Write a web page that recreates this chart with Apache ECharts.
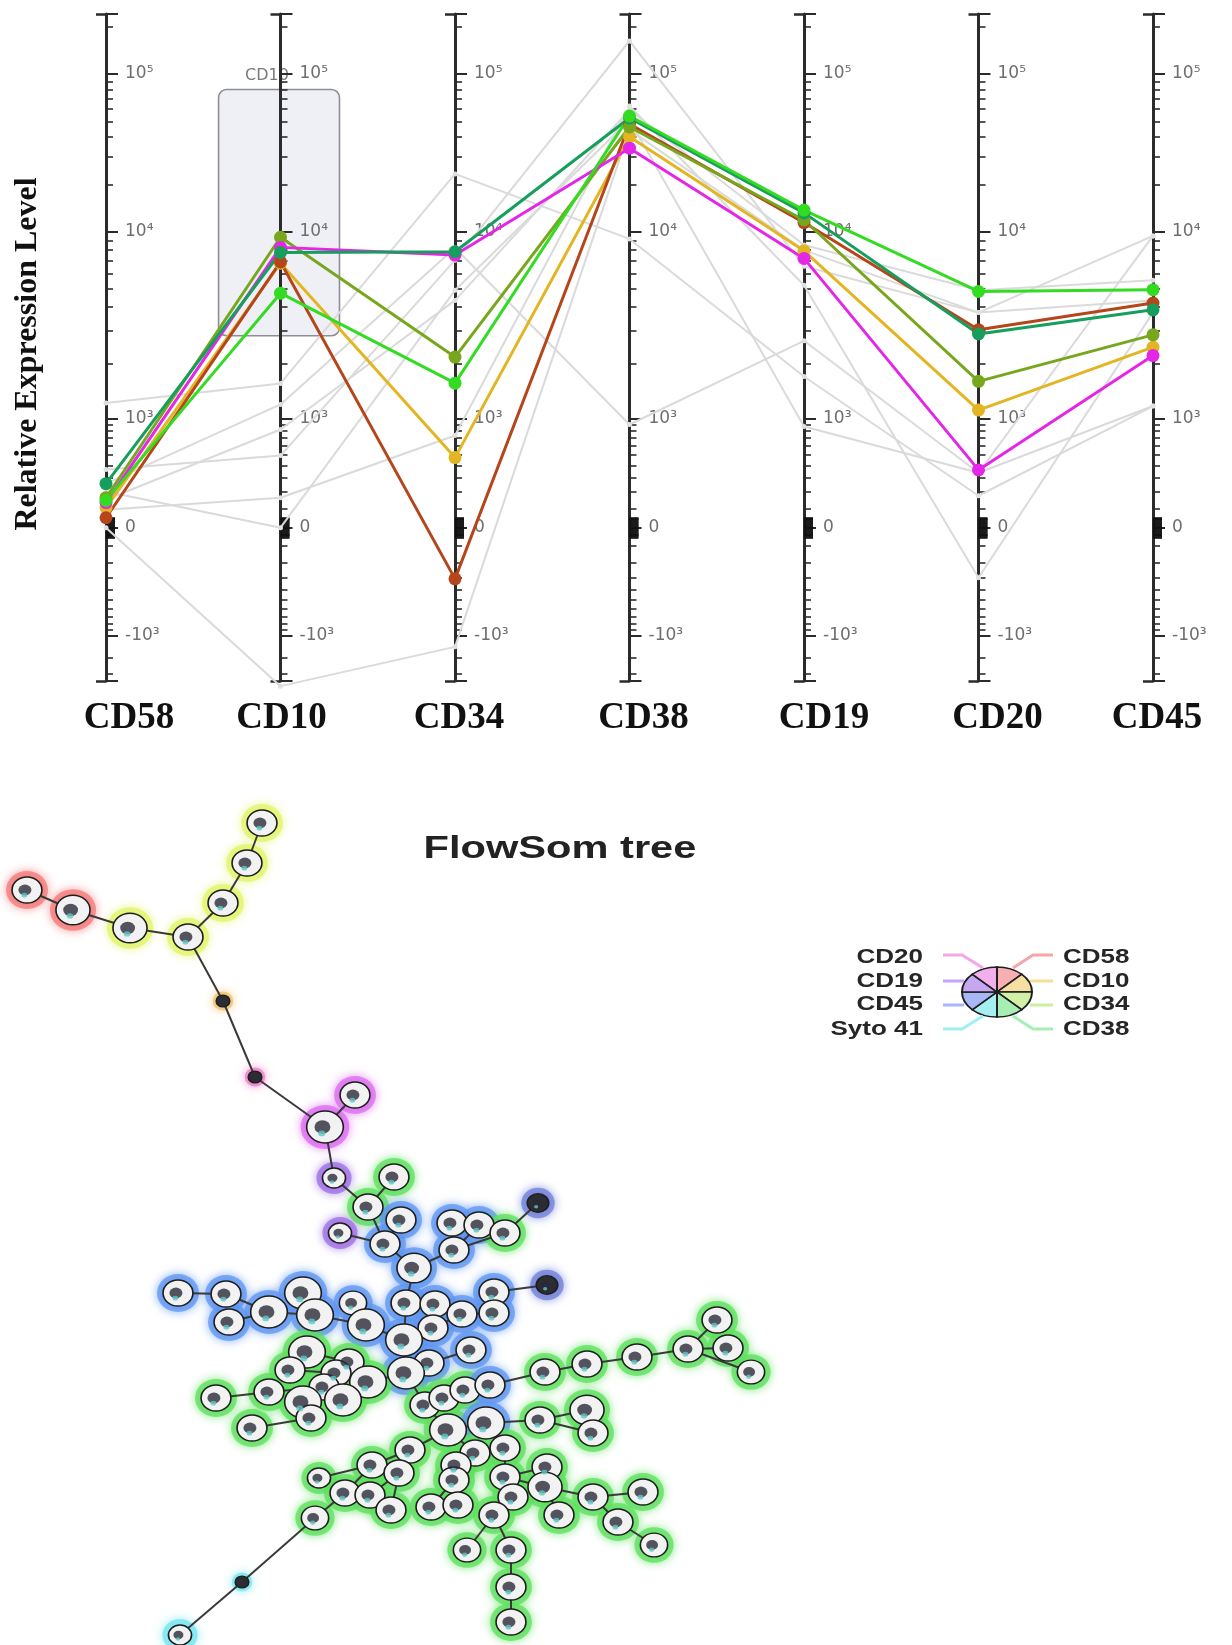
<!DOCTYPE html>
<html>
<head>
<meta charset="utf-8">
<script src="https://cdn.jsdelivr.net/npm/echarts@6/dist/echarts.min.js"></script>
<style>
html,body{margin:0;padding:0;background:#fff;}
#chart{width:1232px;height:1645px;}
</style>
</head>
<body>
<div id="chart"></div>
<script>
// ---------------- DATA ----------------
const MARKERS = ['CD58','CD10','CD34','CD38','CD19','CD20','CD45'];

// highlighted FlowSOM clusters (relative expression per marker)
const clusterLime    = [150, 4730, 1565, 54200, 13750, 4830, 4940];
const clusterTeal    = [257, 7780, 7850, 52700, 13200, 2870, 3860];
const clusterOlive   = [166, 9370, 2160, 46200, 11900, 1600, 2840];
const clusterMagenta = [137, 8280, 7540, 33900, 7235, 361, 2200];
const clusterGold    = [108, 6830, 472, 40100, 7940, 1117, 2440];
const clusterBrown   = [53, 6930, -312, 48300, 11460, 3020, 4190];

// background clusters (grey)
const bgCluster1 = [1220, 1560, 23300, 9180, 1700, 178, 1175];
const bgCluster2 = [257, 1200, 8210, 900, 2640, 338, 9520];
const bgCluster3 = [365, 492, 7080, 162000, 6580, 3730, 9520];
const bgCluster4 = [97, 166, 731, 62700, 5210, -304, 3730];
const bgCluster5 = [204, 0, 4900, 51200, 867, 338, 1175];
const bgCluster6 = [0, -2500, -1230, 44300, 8010, 3730, 4330];
const bgCluster7 = [154, 819, 4330, 59200, 8520, 4900, 5540];

// axis ticks
const MAJOR_TICKS  = [-1000, 0, 1000, 10000, 100000];
const MAJOR_LABELS = ['-10³', '0', '10³', '10⁴', '10⁵'];
const AXIS_MIN_VALUE = -2280;
const AXIS_MAX_VALUE = 240000;

// CD10 gate
const gateName = 'CD10';
const gateRange = [2810, 79800];

// FlowSOM tree nodes: id, layout x, layout y, cell count, metacluster
const treeNodes = [
 ['n1',262,823,560,'yg'],['n2',247,863,560,'yg'],['n3',223,903,560,'yg'],['n4',188,937,560,'yg'],
 ['n5',130,928,760,'yg'],['n6',73,910,760,'red'],['n7',27,890,560,'red'],['n8',223,1001,70,'orange'],
 ['n9',255,1077,70,'pink'],['n10',325,1127,900,'magenta'],['n11',355,1095,560,'magenta'],
 ['A',334,1178,300,'purple'],['B',394,1177,560,'green'],['C',368,1207,560,'green'],['D',401,1220,560,'blue'],
 ['E',340,1233,300,'purple'],['F',385,1244,560,'blue'],['G',452,1223,560,'blue'],['H',479,1225,560,'blue'],
 ['I',505,1233,560,'green'],['J',538,1203,250,'darkblue'],['K',454,1250,560,'blue'],['L',414,1268,760,'blue'],
 ['M',178,1293,560,'blue'],['N',226,1294,560,'blue'],['O',303,1293,900,'blue'],['P',229,1322,560,'blue'],
 ['Q',269,1312,900,'blue'],['R',315,1315,900,'blue'],['S',353,1303,450,'blue'],['T',366,1325,900,'blue'],
 ['U',406,1303,560,'blue'],['V',435,1304,560,'blue'],['W',494,1292,560,'blue'],['X',547,1285,250,'darkblue'],
 ['Y',462,1314,560,'blue'],['Z',494,1313,560,'blue'],['AA',433,1328,560,'blue'],['AB',404,1340,900,'blue'],
 ['AC',471,1350,560,'blue'],['AD',429,1363,560,'blue'],['AE',406,1373,900,'blue'],
 ['AF',307,1352,900,'green'],['AG',349,1362,560,'green'],['AH',290,1370,560,'green'],['AI',336,1373,560,'green'],
 ['AJ',368,1382,900,'green'],['AK',324,1387,560,'green'],['AL',269,1392,560,'green'],['AM',216,1398,560,'green'],
 ['AN',303,1402,900,'green'],['AO',343,1400,900,'green'],['AP',311,1418,560,'green'],['AQ',252,1428,560,'green'],
 ['AR',425,1405,560,'green'],['AS',444,1398,560,'green'],['AT',465,1390,560,'green'],['AU',490,1385,560,'blue'],
 ['AV',545,1372,560,'green'],['AW',587,1364,560,'green'],['AX',637,1357,560,'green'],['AY',688,1349,560,'green'],
 ['AZ',717,1320,560,'green'],['BA',728,1348,560,'green'],['BB',751,1372,450,'green'],
 ['BC',448,1430,900,'green'],['BD',486,1423,900,'blue'],['BE',540,1420,560,'green'],['BF',587,1410,760,'green'],
 ['BG',593,1433,560,'green'],['BH',410,1450,560,'green'],['BI',475,1453,560,'green'],['BJ',505,1448,560,'green'],
 ['BK',372,1465,560,'green'],['BL',399,1473,560,'green'],['BM',456,1465,560,'green'],['BN',319,1478,300,'green'],
 ['BO',454,1480,560,'green'],['BP',505,1477,560,'green'],['BQ',547,1467,560,'green'],['BR',545,1487,760,'green'],
 ['BS',345,1493,560,'green'],['BT',370,1495,560,'green'],['BU',513,1497,560,'green'],['BV',593,1497,560,'green'],
 ['BW',643,1492,560,'green'],['BX',431,1507,560,'green'],['BY',458,1505,560,'green'],['BZ',391,1510,560,'green'],
 ['CA',559,1515,560,'green'],['CB',494,1515,560,'green'],['CC',315,1518,450,'green'],['CD',618,1522,560,'green'],
 ['CE',654,1545,450,'green'],['CF',467,1550,450,'green'],['CG',511,1550,560,'green'],['CH',511,1587,560,'green'],
 ['CI',511,1622,560,'green'],['CJ',242,1582,70,'cyan'],['CK',180,1635,300,'cyan']
];
const treeEdges = [
 ['n1','n2'],['n2','n3'],['n3','n4'],['n4','n5'],['n5','n6'],['n6','n7'],['n4','n8'],['n8','n9'],['n9','n10'],['n10','n11'],['n10','A'],
 ['A','C'],['B','C'],['C','F'],['D','F'],['E','F'],['F','L'],['L','K'],['K','G'],['K','H'],['K','I'],['I','J'],
 ['L','U'],['U','AB'],['V','AA'],['AA','AB'],['Y','AA'],['Z','Y'],['W','Z'],['W','X'],
 ['M','N'],['N','Q'],['P','Q'],['Q','R'],['O','R'],['R','T'],['S','T'],['T','AB'],
 ['AB','AE'],['AC','AD'],['AD','AE'],
 ['AE','AJ'],['AI','AJ'],['AG','AI'],['AF','AG'],['AH','AI'],['AK','AI'],['AL','AK'],['AM','AL'],['AO','AK'],['AN','AK'],['AP','AN'],['AQ','AP'],
 ['AE','AR'],['AR','AS'],['AS','AT'],['AT','AU'],['AU','AV'],['AV','AW'],['AW','AX'],['AX','AY'],['AY','AZ'],['AY','BA'],['AY','BB'],
 ['AR','BC'],['BC','BD'],['BD','BE'],['BE','BF'],['BE','BG'],
 ['BC','BH'],['BH','BK'],['BK','BN'],['BK','BS'],['BS','CC'],['CC','CJ'],['CJ','CK'],['BH','BL'],['BL','BT'],['BL','BZ'],
 ['BC','BI'],['BI','BM'],['BM','BO'],['BO','BX'],['BO','BY'],['BI','BJ'],['BJ','BP'],['BP','BQ'],['BP','BR'],['BR','BV'],['BV','BW'],['BV','CD'],['CD','CE'],['BR','CA'],['BP','BU'],['BU','CB'],['CB','CF'],['CB','CG'],['CG','CH'],['CH','CI']
];

// legend (star chart key)
const LEGEND_MARKERS = ['CD58','CD10','CD34','CD38','Syto 41','CD45','CD19','CD20'];

// ---------------- SCALE (biexponential display) ----------------
const COF = 300;
const DISPLAY_ANCHORS = [[-1000,-108],[0,0],[1000,109],[10000,296],[100000,454]];
const anchorS = DISPLAY_ANCHORS.map(([v,p]) => [Math.asinh(v / COF), p]);
function T(v){
  const s = Math.asinh(v / COF);
  let k = 0;
  if (s <= anchorS[0][0]) k = 0;
  else if (s >= anchorS[anchorS.length-1][0]) k = anchorS.length - 2;
  else { for (let i = 0; i < anchorS.length - 1; i++) if (s >= anchorS[i][0] && s <= anchorS[i+1][0]) { k = i; break; } }
  const [s0,p0] = anchorS[k], [s1,p1] = anchorS[k+1];
  return p0 + (s - s0) * (p1 - p0) / (s1 - s0);
}
const YMIN = T(AXIS_MIN_VALUE), YMAX = T(AXIS_MAX_VALUE);

// minor ticks
const minorVals = [];
for (let m = 100; m <= 900; m += 100) { minorVals.push(m); minorVals.push(-m); }
[1000, 10000, 100000].forEach(d => { for (let k = 2; k <= 9; k++) if (k*d <= AXIS_MAX_VALUE) minorVals.push(k*d); });
minorVals.push(-1500, -2000);
const zeroBlock = [];
for (let z = -55; z <= 55; z += 5) zeroBlock.push(z);

const majorT = MAJOR_TICKS.map(T);
const majorTickT = majorT.concat([YMIN, YMAX]);
const minorT = minorVals.map(T);
const zeroT = zeroBlock.map(T);
const labelByT = new Map(MAJOR_TICKS.map((v,i) => [T(v).toFixed(2), MAJOR_LABELS[i]]));

// ---------------- LAYOUT / STYLE ----------------
const GRID_LEFT = 106, GRID_RIGHT = 79, GRID_TOP = 14, GRID_BOTTOM = 964;
const stepPx = (1232 - GRID_LEFT - GRID_RIGHT) / (MARKERS.length - 1);
const AXIS_COLOR = '#2b2b2b';
const LABEL_SHIFT = [23, 1, 4, 14, 20, 19, 4];

const yAxes = [];
MARKERS.forEach((m, i) => {
  const offset = -i * stepPx;
  const base = {type:'value', gridIndex:0, min:YMIN, max:YMAX, position:'left', offset, z:1.5, splitLine:{show:false}};
  yAxes.push(Object.assign({}, base, {
    axisLine:{show:true, lineStyle:{color:AXIS_COLOR, width:3}},
    axisTick:{show:true, inside:true, length:12, lineStyle:{color:AXIS_COLOR, width:2}, customValues: majorTickT},
    axisLabel:{show:true, inside:true, margin:19, customValues: majorT, color:'#6e6e6e', fontSize:17,
      fontFamily:'DejaVu Sans', formatter: (val) => labelByT.get(Number(val).toFixed(2)) || ''}
  }));
  yAxes.push(Object.assign({}, base, {
    axisLine:{show:false},
    axisTick:{show:true, inside:true, length:7, lineStyle:{color:AXIS_COLOR, width:1.6}, customValues: minorT},
    axisLabel:{show:false}
  }));
  yAxes.push(Object.assign({}, base, {
    axisLine:{show:false},
    axisTick:{show:true, inside:true, length:9, lineStyle:{color:'#111', width:1.6}, customValues: zeroT},
    axisLabel:{show:false}
  }));
  yAxes.push(Object.assign({}, base, {
    axisLine:{show:false},
    axisTick:{show:true, inside:false, length:10, lineStyle:{color:AXIS_COLOR, width:2.5}, customValues:[YMIN, YMAX]},
    axisLabel:{show:false}
  }));
});
const TREE_Y_INDEX = yAxes.length;
yAxes.push({type:'value', gridIndex:1, min:0, max:1645, inverse:true, show:false});

const toPts = arr => arr.map((v, i) => [i, T(v)]);

const greyClusters = [bgCluster1,bgCluster2,bgCluster3,bgCluster4,bgCluster5,bgCluster6,bgCluster7];
const colored = [
  {data:clusterGold, color:'#e4b523'},
  {data:clusterBrown, color:'#b5461c'},
  {data:clusterOlive, color:'#78a61c'},
  {data:clusterMagenta, color:'#e426e6'},
  {data:clusterTeal, color:'#169e5c'},
  {data:clusterLime, color:'#33dc22'}
];

const series = [];
// gate box (rounded)
series.push({
  type:'custom', xAxisIndex:0, yAxisIndex:0, z:1, silent:true,
  data:[[0.645, T(gateRange[1]), 1.338, T(gateRange[0])]],
  encode:{x:[0,2], y:[1,3]},
  renderItem:(params, api) => {
    const p1 = api.coord([api.value(0), api.value(1)]);
    const p2 = api.coord([api.value(2), api.value(3)]);
    return {type:'group', children:[
      {type:'rect', shape:{x:p1[0], y:p1[1], width:p2[0]-p1[0], height:p2[1]-p1[1], r:8},
       style:{fill:'#efeff6', stroke:'#8e8e98', lineWidth:1.6}},
      {type:'text', style:{text:gateName, x:(p1[0]+p2[0])/2 - 12, y:p1[1]-6, align:'center', verticalAlign:'bottom',
        textAlign:'center', textVerticalAlign:'bottom', fill:'#7a7a7a', font:'16px "DejaVu Sans"'}}
    ]};
  }
});
greyClusters.forEach(g => series.push({
  type:'line', xAxisIndex:0, yAxisIndex:0, data:toPts(g), z:2, silent:true, clip:false,
  symbol:'circle', symbolSize:5, itemStyle:{color:'#e0e0e0'},
  lineStyle:{color:'#dadada', width:2}
}));
colored.forEach(c => series.push({
  type:'line', xAxisIndex:0, yAxisIndex:0, data:toPts(c.data), z:3, silent:true,
  symbol:'circle', symbolSize:13, itemStyle:{color:c.color},
  lineStyle:{color:c.color, width:3}
}));

// tree
const HALO = {yg:'#e2f46a', red:'#f47a7a', orange:'#f2bf6a', pink:'#f27ac8', magenta:'#dc6cf0', purple:'#9d6fe6',
  blue:'#5f95f2', darkblue:'#6f7fd8', green:'#5ee05e', cyan:'#74e6f2'};
const nodeD = cells => 4 + Math.sqrt(cells) * 0.93;
const STRETCH = 1.15;
series.push({
  type:'scatter', xAxisIndex:1, yAxisIndex:TREE_Y_INDEX, z:2, silent:true,
  data: treeNodes.map(([id,x,y,c,g]) => {
    const d = nodeD(c), pad = c < 100 ? 7 : 12;
    return {value:[x,y], symbolSize:[d*STRETCH+pad, d+pad],
      itemStyle:{color:HALO[g], opacity:0.75, shadowBlur:10, shadowColor:HALO[g]}};
  })
});
series.push({
  type:'graph', coordinateSystem:'cartesian2d', xAxisIndex:1, yAxisIndex:TREE_Y_INDEX, z:3, silent:true,
  data: treeNodes.map(([id,x,y,c,g]) => {
    const d = nodeD(c);
    const dark = c < 100 || g === 'darkblue';
    return {name:id, value:[x,y], symbol:'circle', symbolSize:[d*STRETCH, d],
      itemStyle:{color: dark ? '#2c2c34' : '#f2f2f2', borderColor:'#1e1e1e', borderWidth:1.5}};
  }),
  links: treeEdges.map(([s,t]) => ({source:s, target:t})),
  lineStyle:{color:'#3a3a3a', width:2, opacity:1, curveness:0},
  label:{show:false}, emphasis:{disabled:true}
});
series.push({
  type:'scatter', xAxisIndex:1, yAxisIndex:TREE_Y_INDEX, z:4, silent:true,
  data: treeNodes.filter(n => n[3] >= 100).map(([id,x,y,c,g]) => {
    const d = nodeD(c);
    return {value:[x,y], symbolSize:[d*0.5, d*0.42], symbolOffset:[-d*0.08, 0], itemStyle:{color:'#2a2a38'}};
  })
});
series.push({
  type:'scatter', xAxisIndex:1, yAxisIndex:TREE_Y_INDEX, z:5, silent:true,
  data: treeNodes.filter(n => n[3] >= 100).map(([id,x,y,c,g]) => {
    const d = nodeD(c);
    return {value:[x,y], symbolSize:[d*0.22, d*0.18], symbolOffset:[-d*0.1, d*0.2], itemStyle:{color:'#5fc8c8'}};
  })
});

// legend graphic
const LEG_CX = 997, LEG_CY = 992;
const LEGEND_FILL = ['#f6b0b0','#f6dfa0','#d2f0a6','#a8eeb4','#a6eef0','#a8b8f6','#c6a8f2','#f0b0ec'];
const LEGEND_LINE = ['#f6a6a6','#f8dc9a','#c8f0a0','#a6eeb2','#9ff0f5','#a6b6f8','#c9a3f5','#f4a6e6'];
const sectors = LEGEND_MARKERS.map((m, i) => ({
  type:'sector',
  shape:{cx:0, cy:0, r:25, r0:0, startAngle:-Math.PI/2 + i*Math.PI/4, endAngle:-Math.PI/2 + (i+1)*Math.PI/4},
  style:{fill:LEGEND_FILL[i], stroke:'#1e1e1e', lineWidth:1.4}
}));
const legendLines = [
  [[1013,968],[1033,955],[1053,955]],
  [[1030,981],[1053,981]],
  [[1030,1005],[1053,1005]],
  [[1013,1016],[1033,1029],[1053,1029]],
  [[983,1016],[962,1029],[943,1029]],
  [[964,1005],[943,1005]],
  [[964,981],[943,981]],
  [[983,968],[962,955],[943,955]]
];
const legendTextPos = [[1063,957,'left'],[1063,981,'left'],[1063,1004,'left'],[1063,1029,'left'],
  [923,1029,'right'],[923,1004,'right'],[923,981,'right'],[923,957,'right']];

const graphic = [
  {type:'text', x:28, y:354, rotation:Math.PI/2, z:10,
   style:{text:'Relative Expression Level', font:'bold 32px "Liberation Serif"', fill:'#111',
     align:'center', verticalAlign:'middle', textAlign:'center', textVerticalAlign:'middle'}},
  {type:'text', x:560, y:849, scaleX:1.3, z:10,
   style:{text:'FlowSom tree', font:'bold 32px "Liberation Sans"', fill:'#222',
     align:'center', verticalAlign:'middle', textAlign:'center', textVerticalAlign:'middle'}}
];
legendLines.forEach((pts, i) => graphic.push({type:'polyline', z:10, shape:{points:pts},
  style:{stroke:LEGEND_LINE[i], lineWidth:3, fill:null}}));
graphic.push({type:'group', x:LEG_CX, y:LEG_CY, scaleX:1.4, z:11, children:sectors});
LEGEND_MARKERS.forEach((m, i) => {
  const [x,y,al] = legendTextPos[i];
  graphic.push({type:'text', x, y, scaleX:1.3, z:11,
    style:{text:m, font:'bold 20px "Liberation Sans"', fill:'#262626',
      align:al, verticalAlign:'middle', textAlign:al, textVerticalAlign:'middle'}});
});

const catRich = {};
LABEL_SHIFT.forEach((s, i) => {
  catRich['c' + i] = {fontFamily:'Liberation Serif', fontWeight:'bold', fontSize:37, color:'#111', padding:[0,0,0,2*s]};
});

const option = {
  backgroundColor:'#ffffff',
  animation:false,
  grid:[
    {left:GRID_LEFT, right:GRID_RIGHT, top:GRID_TOP, bottom:GRID_BOTTOM, containLabel:false},
    {left:0, right:0, top:0, bottom:0, containLabel:false}
  ],
  xAxis:[
    {type:'value', gridIndex:0, min:0, max:MARKERS.length-1, interval:1,
     axisLine:{show:false}, axisTick:{show:false}, splitLine:{show:false},
     axisLabel:{formatter:(v) => { const i = Math.round(v); return MARKERS[i] ? '{c' + i + '|' + MARKERS[i] + '}' : ''; },
       rich:catRich, fontFamily:'Liberation Serif', fontWeight:'bold',
       fontSize:37, color:'#111', margin:19, showMinLabel:true, showMaxLabel:true}},
    {type:'value', gridIndex:1, min:0, max:1232, show:false}
  ],
  yAxis: yAxes,
  series,
  graphic
};

const chart = echarts.init(document.getElementById('chart'), null, {renderer:'canvas'});
chart.setOption(option);
</script>
</body>
</html>
